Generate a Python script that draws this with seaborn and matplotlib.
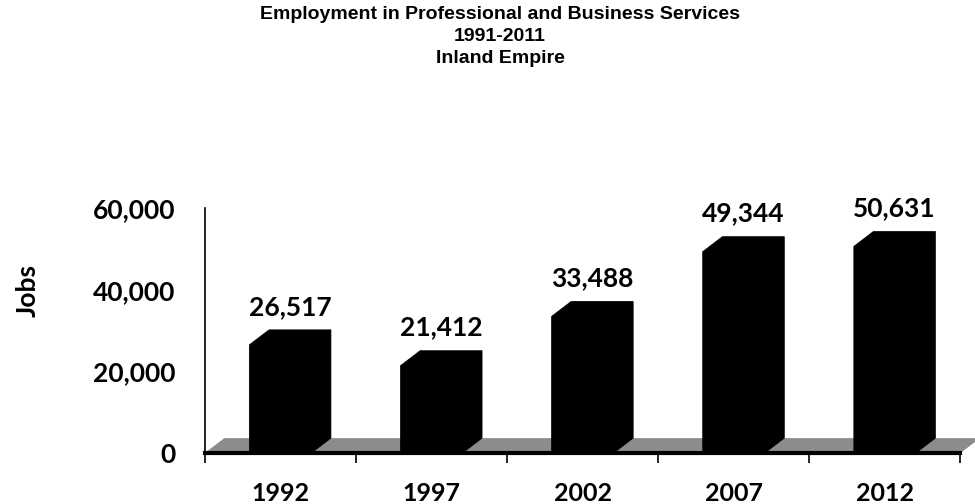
import numpy as np
import matplotlib
matplotlib.use('Agg')
import matplotlib.pyplot as plt
from matplotlib.patches import Polygon
import seaborn as sns
import pandas as pd

# chart data
years = ['1992', '1997', '2002', '2007', '2012']
jobs = [26517, 21412, 33488, 49344, 50631]
title_lines = ['Employment in Professional and Business Services', '1991-2011', 'Inland Empire']

df = pd.DataFrame({'year': years, 'jobs': jobs})

sns.set_theme(style='white')
plt.rcParams['font.family'] = ['Lato', 'DejaVu Sans']
plt.rcParams.update({'text.color': 'black', 'axes.labelcolor': 'black',
                     'xtick.color': 'black', 'ytick.color': 'black'})

fig = plt.figure(figsize=(9.75, 5.04), dpi=100)
ax = fig.add_axes([0.210, 0.101, 0.775, 0.486])

ax = sns.barplot(data=df, x='year', y='jobs', color='black', width=0.41,
                 saturation=1, ax=ax)

# fake 3d depth (in category units / data units)
dx = 0.13
dy = 3670

ax.set_xlim(-0.5, 4.5)
ax.set_ylim(0, 60000)

# grey floor
floor = Polygon([(-0.5, 0), (-0.5 + dx, dy), (4.5 + dx, dy), (4.5, 0)],
                closed=True, facecolor='#8c8c8c', edgecolor='none',
                zorder=1, clip_on=False)
ax.add_patch(floor)

# extruded bars with a chamfered top-left corner
for p, v in zip(ax.patches[:len(jobs)], jobs):
    x0 = p.get_x()
    x1 = x0 + p.get_width()
    shape = Polygon([(x0, 0), (x0, v), (x0 + dx, v + dy), (x1 + dx, v + dy),
                     (x1 + dx, dy), (x1, 0)], closed=True,
                    facecolor='black', edgecolor='black', lw=0.5,
                    zorder=3, clip_on=False)
    ax.add_patch(shape)
    ax.annotate(f'{v:,}', xy=((x0 + x1 + dx) / 2, v + dy), xytext=(0, 8),
                textcoords='offset points', ha='center', va='bottom',
                fontsize=19, fontweight='bold', color='black',
                annotation_clip=False)

# axes styling
for s in ['top', 'right']:
    ax.spines[s].set_visible(False)
ax.spines['left'].set_color('black')
ax.spines['left'].set_linewidth(1.2)
ax.spines['bottom'].set_color('black')
ax.spines['bottom'].set_linewidth(3)
ax.spines['bottom'].set_zorder(4)

ax.set_yticks([0, 20000, 40000, 60000])
ax.set_yticklabels([f'{t:,}' for t in [0, 20000, 40000, 60000]],
                   fontsize=19, fontweight='bold')
ax.tick_params(axis='y', direction='out', length=7, width=1.2, color='black', pad=14)

ax.set_xticks(range(len(years)))
ax.set_xticklabels(years, fontsize=18, fontweight='bold')
ax.set_xticks(np.arange(-0.5, len(years)), minor=True)
ax.tick_params(axis='x', which='major', length=0, pad=21)
ax.tick_params(axis='x', which='minor', direction='out', length=7, width=1.2,
               color='black', bottom=True)

ax.set_xlabel('')
ax.set_ylabel('Jobs', fontsize=19, fontweight='bold')
ax.yaxis.set_label_coords(-0.218, 0.665)

fig.text(0.513, 0.988, '\n'.join(title_lines), ha='center', va='top',
         fontsize=14, fontweight='bold', family=['Liberation Sans', 'DejaVu Sans'],
         linespacing=1.38)

plt.savefig('out.png', dpi=100)
plt.close()
